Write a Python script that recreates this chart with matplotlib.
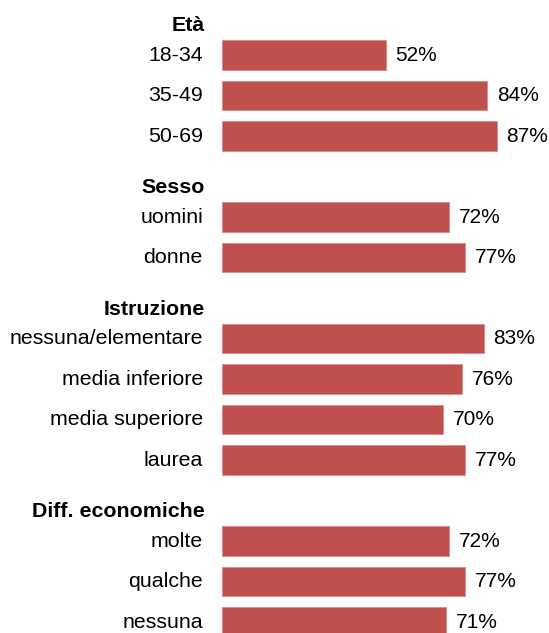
import matplotlib.pyplot as plt
import matplotlib.transforms as mtransforms

plt.rcParams['font.family'] = ['Liberation Sans', 'DejaVu Sans']

# rows top to bottom, grouped under a bold header
groups = ['Età', 'Sesso', 'Istruzione', 'Diff. economiche']
eta_labels = ['18-34', '35-49', '50-69']
eta_values = [52, 84, 87]
sesso_labels = ['uomini', 'donne']
sesso_values = [72, 77]
istruzione_labels = ['nessuna/elementare', 'media inferiore', 'media superiore', 'laurea']
istruzione_values = [83, 76, 70, 77]
diff_labels = ['molte', 'qualche', 'nessuna']
diff_values = [72, 77, 71]

sections = [
    (groups[0], eta_labels, eta_values),
    (groups[1], sesso_labels, sesso_values),
    (groups[2], istruzione_labels, istruzione_values),
    (groups[3], diff_labels, diff_values),
]

W, H, DPI = 549, 633, 100
fig = plt.figure(figsize=(W / DPI, H / DPI), dpi=DPI)
x0 = 221.7 / W
ax = fig.add_axes([x0, 0, 316.1 / W, 1])

color = '#C0504D'
fs = 15.4
row = 0
pitch = 40.5
lab_tr = mtransforms.blended_transform_factory(fig.transFigure, ax.transData)

for header, labels, values in sections:
    ax.text(205 / W, row + 0.28, header, transform=lab_tr, ha='right', va='center',
            fontsize=fs, fontweight='bold')
    row += 1
    for lab, v in zip(labels, values):
        ax.barh(row, v, height=0.74, color=color, edgecolor='#D98B89', linewidth=0.6)
        ax.text(203 / W, row, lab, transform=lab_tr, ha='right', va='center', fontsize=fs)
        ax.text(v + 3.0, row, f'{v}%', ha='left', va='center', fontsize=15, clip_on=False)
        row += 1

ax.set_xlim(0, 100)
top = -(55 - pitch) / pitch
ax.set_ylim(top + H / pitch, top)
ax.axis('off')

fig.savefig('out.png', dpi=DPI)
